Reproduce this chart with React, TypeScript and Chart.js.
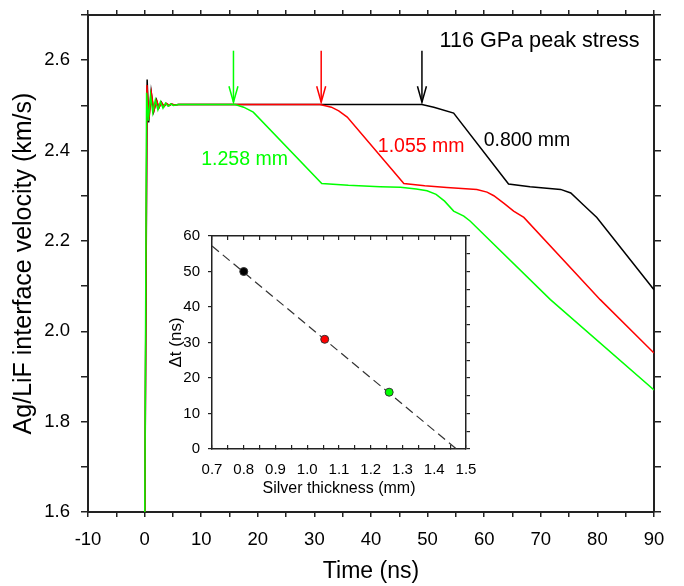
import React, { useEffect, useRef } from 'react';
import { Chart, registerables } from 'chart.js';

Chart.register(...registerables);

const FONT = "'Liberation Sans', Arial, Helvetica, sans-serif";

// ---------- main chart data (Time in ns, velocity in km/s) ----------
const greenT = [0, 0.35, 0.65, 1.05, 1.45, 1.9, 2.35, 2.8, 3.25, 3.7, 4.15, 4.6, 5.1, 6.0, 16.0, 17.5, 19.2, 31.3, 36, 41.6, 45.2, 48, 49.9, 51.5, 53, 54.6, 56.4, 57.5, 71.7, 90];
const greenV = [1.5, 2.528, 2.466, 2.522, 2.484, 2.512, 2.49, 2.508, 2.494, 2.505, 2.498, 2.503, 2.5, 2.502, 2.502, 2.496, 2.485, 2.327, 2.323, 2.32, 2.319, 2.315, 2.311, 2.303, 2.288, 2.266, 2.255, 2.244, 2.07, 1.87];

const redT = [0, 0.42, 0.78, 1.2, 1.65, 2.15, 2.55, 3.0, 3.45, 3.9, 4.35, 4.8, 5.3, 6.0, 31.0, 33.0, 34.3, 35.8, 45.8, 49.5, 53.4, 58.7, 60.5, 61.7, 63.5, 65.2, 67.0, 80.5, 90];
const redV = [1.5, 2.545, 2.47, 2.527, 2.488, 2.51, 2.495, 2.506, 2.498, 2.504, 2.5, 2.503, 2.501, 2.502, 2.502, 2.496, 2.488, 2.474, 2.327, 2.322, 2.318, 2.314, 2.308, 2.3, 2.283, 2.266, 2.252, 2.07, 1.952];

const blackT = [0, 0.45, 0.72, 1.15, 1.6, 2.1, 2.5, 2.95, 3.4, 3.85, 4.3, 4.75, 5.2, 6.0, 49.0, 51.1, 54.6, 64.3, 68.1, 73.5, 75.3, 77.5, 79.9, 90];
const blackV = [1.5, 2.557, 2.462, 2.531, 2.486, 2.512, 2.494, 2.507, 2.497, 2.504, 2.499, 2.503, 2.501, 2.502, 2.502, 2.496, 2.483, 2.326, 2.32, 2.314, 2.306, 2.28, 2.252, 2.092];

// arrows marking the release arrival (time, top velocity, tip velocity)
const arrowT = [15.7, 31.2, 49.0];
const arrowTopV = [2.621, 2.621, 2.621];
const arrowTipV = [2.507, 2.507, 2.507];
const arrowColors = ['#00ff00', '#ff0000', '#000000'];

// text annotations (left edge time, baseline velocity)
const noteTexts = ['116 GPa peak stress', '0.800 mm', '1.055 mm', '1.258 mm'];
const noteT = [52.1, 59.9, 41.2, 10.0];
const noteV = [2.629, 2.4107, 2.396, 2.3684];
const noteColors = ['#000000', '#000000', '#ff0000', '#00ff00'];
const noteSizes = [21.6, 19.5, 19.5, 19.5];

// ---------- inset data ----------
const thickness = [0.8, 1.055, 1.258];
const deltaT = [50.0, 30.9, 16.0];
const pointColors = ['#000000', '#ff0000', '#00ff00'];
const fitX = [0.7, 1.47];
const fitY = [57.2, 0];

const zip = (xs: number[], ys: number[]) => xs.map((x, i) => ({ x, y: ys[i] }));

const annotPlugin = {
  id: 'annot',
  afterDatasetsDraw(chart: any) {
    const { ctx } = chart;
    const x = chart.scales.x;
    const y = chart.scales.y;
    ctx.save();
    ctx.lineWidth = 1.5;
    for (let i = 0; i < arrowT.length; i++) {
      const px = x.getPixelForValue(arrowT[i]);
      const pTop = y.getPixelForValue(arrowTopV[i]);
      const pTip = y.getPixelForValue(arrowTipV[i]);
      ctx.strokeStyle = arrowColors[i];
      ctx.beginPath();
      ctx.moveTo(px, pTop);
      ctx.lineTo(px, pTip);
      ctx.stroke();
      ctx.beginPath();
      ctx.moveTo(px - 4.5, pTip - 16);
      ctx.lineTo(px, pTip);
      ctx.lineTo(px + 4.5, pTip - 16);
      ctx.stroke();
    }
    ctx.textAlign = 'left';
    ctx.textBaseline = 'alphabetic';
    for (let i = 0; i < noteTexts.length; i++) {
      ctx.font = `${noteSizes[i]}px ${FONT}`;
      ctx.fillStyle = noteColors[i];
      ctx.fillText(noteTexts[i], x.getPixelForValue(noteT[i]), y.getPixelForValue(noteV[i]));
    }
    ctx.restore();
  },
};

const axisLine = { display: true, color: '#222', width: 2 };
const noPadV = (w: number) => (s: any) => { s.width = w; s.paddingTop = 0; s.paddingBottom = 0; };
const noPadH = (h: number) => (s: any) => { s.height = h; s.paddingLeft = 0; s.paddingRight = 0; };

export default function App() {
  const mainRef = useRef<HTMLCanvasElement>(null);
  const insetRef = useRef<HTMLCanvasElement>(null);

  useEffect(() => {
    document.body.style.margin = '0';
    Chart.defaults.font.family = FONT;
    Chart.defaults.color = '#000';

    const gridMain = { drawOnChartArea: false, drawTicks: true, color: '#222', lineWidth: 1.5 };

    const main = new Chart(mainRef.current!, {
      type: 'line',
      data: {
        datasets: [
          { data: zip(greenT, greenV), borderColor: '#00ff00', borderWidth: 1.5, pointRadius: 0, tension: 0, xAxisID: 'x', yAxisID: 'y' },
          { data: zip(redT, redV), borderColor: '#ff0000', borderWidth: 1.5, pointRadius: 0, tension: 0, xAxisID: 'x', yAxisID: 'y' },
          { data: zip(blackT, blackV), borderColor: '#000000', borderWidth: 1.5, pointRadius: 0, tension: 0, xAxisID: 'x', yAxisID: 'y' },
        ],
      },
      options: {
        responsive: false,
        animation: false,
        devicePixelRatio: 1,
        layout: { padding: 0 },
        plugins: { legend: { display: false }, tooltip: { enabled: false } },
        scales: {
          x: {
            type: 'linear', position: 'bottom', min: -10, max: 90,
            ticks: {
              stepSize: 5, autoSkip: false, maxRotation: 0, minRotation: 0, padding: 12, color: '#000',
              font: { size: 18.5 },
              callback: (v: any) => (Math.round(v) % 10 === 0 ? String(Math.round(v)) : ''),
            },
            grid: { ...gridMain, tickLength: 5 },
            border: axisLine,
            title: { display: true, text: 'Time (ns)', color: '#000', font: { size: 23 }, padding: { top: 0, bottom: 1 } },
            afterFit: noPadH(74),
          },
          x2: {
            type: 'linear', position: 'top', min: -10, max: 90,
            ticks: { stepSize: 5, display: false, autoSkip: false },
            grid: { ...gridMain, tickLength: 5 },
            border: axisLine,
            afterFit: noPadH(15),
          },
          y: {
            type: 'linear', position: 'left', min: 1.6, max: 2.7,
            ticks: {
              stepSize: 0.1, padding: 11, color: '#000', font: { size: 18.5 },
              callback: (v: any) => { const n = Math.round(v * 10); return n % 2 === 0 ? (n / 10).toFixed(1) : ''; },
            },
            grid: { ...gridMain, tickLength: 7 },
            border: axisLine,
            title: { display: true, text: 'Ag/LiF interface velocity (km/s)', color: '#000', font: { size: 25 }, padding: { top: 9, bottom: 0 } },
            afterFit: noPadV(88),
          },
          y2: {
            type: 'linear', position: 'right', min: 1.6, max: 2.7,
            ticks: { stepSize: 0.1, display: false },
            grid: { ...gridMain, tickLength: 7 },
            border: axisLine,
            afterFit: noPadV(30),
          },
        },
      },
      plugins: [annotPlugin],
    } as any);

    const gridInsetY = { drawOnChartArea: false, drawTicks: true, color: '#222', lineWidth: 1.2, tickLength: 4 };
    const gridInsetX = { drawOnChartArea: false, drawTicks: true, color: '#222', lineWidth: 1.2, tickLength: -4 };
    const insetBorder = { display: true, color: '#222', width: 1.5 };

    const inset = new Chart(insetRef.current!, {
      type: 'scatter',
      data: {
        datasets: [
          {
            data: zip(thickness, deltaT), showLine: false, pointRadius: 4, pointHoverRadius: 4,
            pointBackgroundColor: pointColors, pointBorderColor: '#333', pointBorderWidth: 1,
          },
          {
            data: zip(fitX, fitY), showLine: true, borderColor: '#333', borderWidth: 1.2, borderDash: [9, 5],
            pointRadius: 0, tension: 0,
          },
        ],
      },
      options: {
        responsive: false,
        animation: false,
        devicePixelRatio: 1,
        layout: { padding: 0 },
        plugins: { legend: { display: false }, tooltip: { enabled: false } },
        scales: {
          x: {
            type: 'linear', position: 'bottom', min: 0.7, max: 1.5,
            ticks: {
              stepSize: 0.05, autoSkip: false, maxRotation: 0, minRotation: 0, padding: 16, color: '#000', font: { size: 15 },
              callback: (v: any) => { const n = Math.round(v * 100); return n % 10 === 0 ? (n / 100).toFixed(1) : ''; },
            },
            grid: gridInsetX,
            border: insetBorder,
            title: { display: true, text: 'Silver thickness (mm)', color: '#000', font: { size: 16 }, padding: { top: 0, bottom: 8 } },
            afterFit: noPadH(57),
          },
          x2: {
            type: 'linear', position: 'top', min: 0.7, max: 1.5,
            ticks: { stepSize: 0.05, display: false, autoSkip: false },
            grid: gridInsetX,
            border: insetBorder,
            afterFit: noPadH(10),
          },
          y: {
            type: 'linear', position: 'left', min: 0, max: 60,
            ticks: {
              stepSize: 5, padding: 8, color: '#000', font: { size: 15 },
              callback: (v: any) => (Math.round(v) % 10 === 0 ? String(Math.round(v)) : ''),
            },
            grid: gridInsetY,
            border: insetBorder,
            title: { display: true, text: 'Δt (ns)', color: '#000', font: { size: 17 }, padding: { top: 6, bottom: 0 } },
            afterFit: noPadV(52),
          },
          y2: {
            type: 'linear', position: 'right', min: 0, max: 60,
            ticks: { stepSize: 5, display: false },
            grid: gridInsetY,
            border: insetBorder,
            afterFit: noPadV(14),
          },
        },
      },
    } as any);

    return () => {
      main.destroy();
      inset.destroy();
    };
  }, []);

  return (
    <div style={{ position: 'fixed', left: 0, top: 0, width: 684, height: 586, background: '#fff' }}>
      <canvas ref={mainRef} width={684} height={586} style={{ position: 'absolute', left: 0, top: 0, width: 684, height: 586 }} />
      <canvas ref={insetRef} width={320} height={280} style={{ position: 'absolute', left: 160, top: 226, width: 320, height: 280 }} />
    </div>
  );
}
